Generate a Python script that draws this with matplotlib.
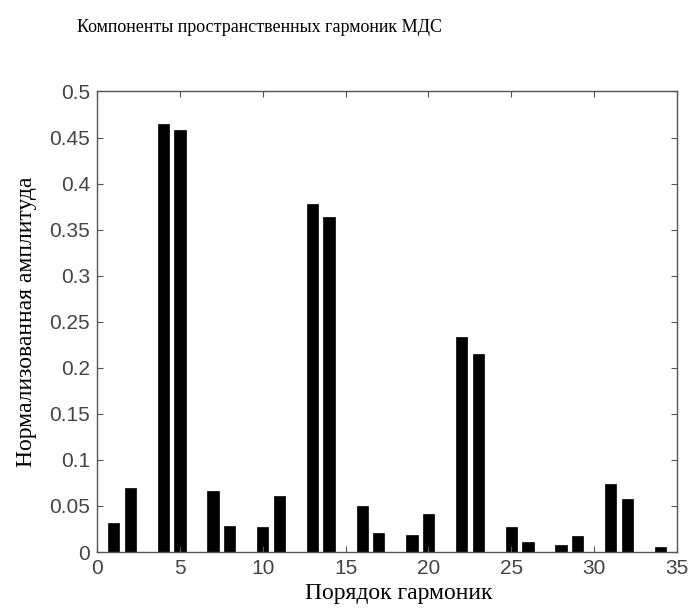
import numpy as np
import matplotlib
matplotlib.use("Agg")
import matplotlib.pyplot as plt

# harmonic order and normalised amplitude
orders = [1, 2, 4, 5, 7, 8, 10, 11, 13, 14, 16, 17,
          19, 20, 22, 23, 25, 26, 28, 29, 31, 32, 34]
amps = [0.031, 0.070, 0.465, 0.458, 0.066, 0.028, 0.027, 0.061,
        0.378, 0.364, 0.050, 0.021, 0.018, 0.041, 0.233, 0.215,
        0.027, 0.011, 0.008, 0.017, 0.074, 0.058, 0.005]

xticks = [0, 5, 10, 15, 20, 25, 30, 35]
yticks = [0, 0.05, 0.1, 0.15, 0.2, 0.25, 0.3, 0.35, 0.4, 0.45, 0.5]
ytick_labels = ["0", "0.05", "0.1", "0.15", "0.2", "0.25",
                "0.3", "0.35", "0.4", "0.45", "0.5"]

fig = plt.figure(figsize=(6.93, 6.10), dpi=100)
ax = fig.add_axes([0.14, 0.095, 0.837, 0.755])

ax.bar(orders, amps, width=0.68, color="black", edgecolor="black",
       linewidth=0.5)

ax.set_xlim(0, 35)
ax.set_ylim(0, 0.5)
ax.set_xticks(xticks)
ax.set_yticks(yticks)
ax.set_yticklabels(ytick_labels)

ax.tick_params(direction="in", top=True, right=True, length=4,
               color="#555555", labelcolor="#444444", labelsize=15)
ax.tick_params(axis="x", pad=5)
ax.tick_params(axis="y", pad=5)
for lab in ax.get_xticklabels() + ax.get_yticklabels():
    lab.set_family("Liberation Sans")
for sp in ax.spines.values():
    sp.set_color("#555555")
    sp.set_linewidth(1.0)

ax.set_xlabel("Порядок гармоник", family="Liberation Serif",
              fontsize=17)
ax.xaxis.set_label_coords(0.521, -0.068)
ax.set_ylabel("Нормализованная амплитуда", family="Liberation Serif",
              fontsize=17, labelpad=9)

fig.text(0.374, 0.955, "Компоненты пространственных гармоник МДС",
         family="Liberation Serif", fontsize=13, ha="center", va="center")

fig.savefig("out.png", dpi=100, facecolor="white")
